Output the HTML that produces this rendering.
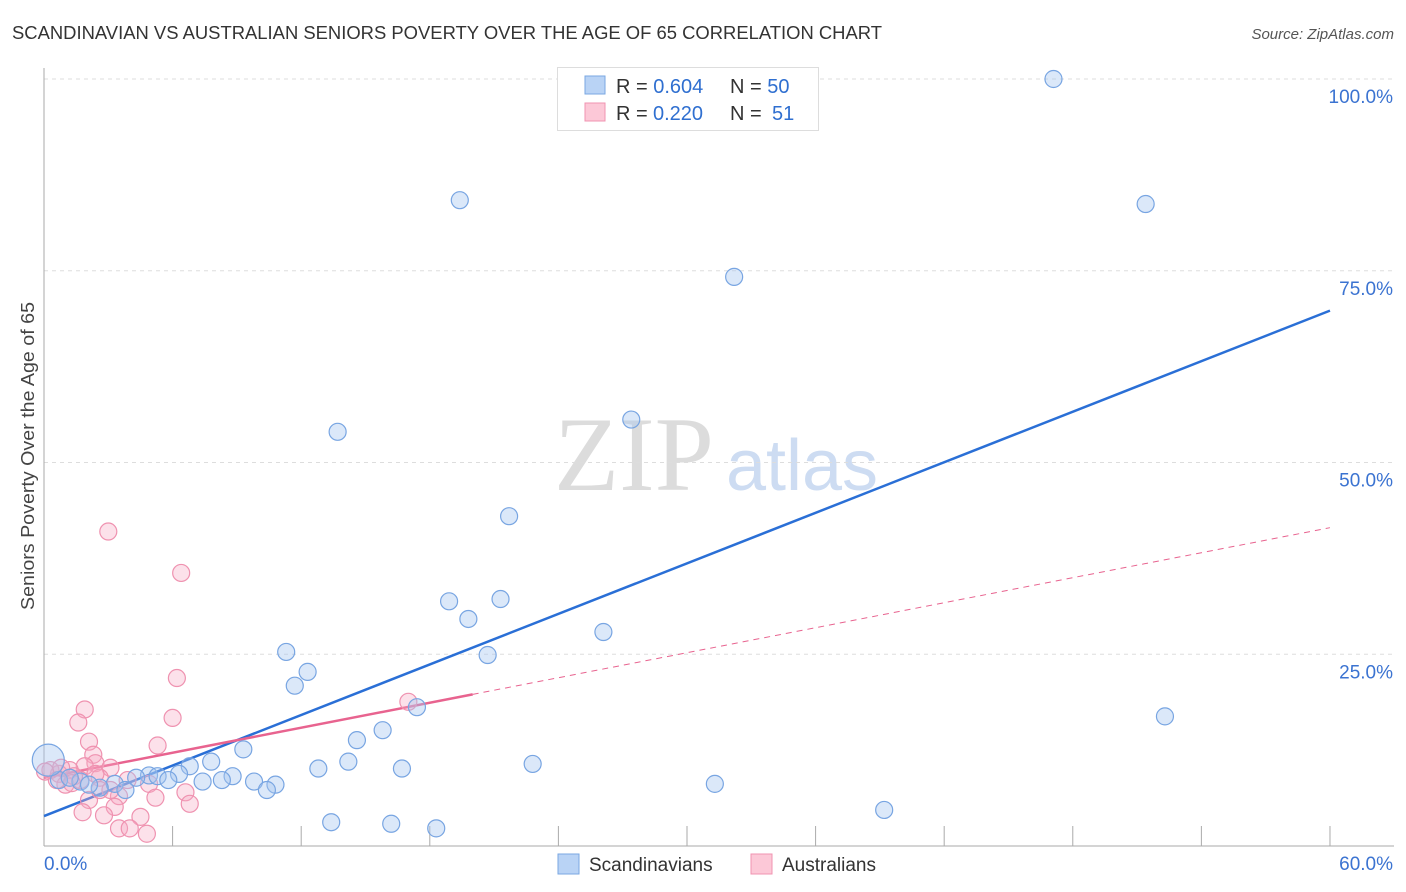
<!DOCTYPE html>
<html><head><meta charset="utf-8"><style>
body{margin:0;background:#fff;font-family:"Liberation Sans",sans-serif;}
svg{display:block}
</style></head><body>
<svg id="chart" width="1406" height="892" xmlns="http://www.w3.org/2000/svg">
<text x="12" y="39" font-size="18" fill="#333" textLength="870" lengthAdjust="spacingAndGlyphs">SCANDINAVIAN VS AUSTRALIAN SENIORS POVERTY OVER THE AGE OF 65 CORRELATION CHART</text>
<text x="1394" y="39" font-size="15" fill="#555" font-style="italic" text-anchor="end">Source: ZipAtlas.com</text>
<text transform="translate(34,456) rotate(-90)" font-size="18" fill="#444" text-anchor="middle" textLength="308" lengthAdjust="spacingAndGlyphs">Seniors Poverty Over the Age of 65</text>
<g>
<text x="634" y="490" font-size="106" fill="#dcdcdc" font-family="Liberation Serif,serif" text-anchor="middle" textLength="160" lengthAdjust="spacingAndGlyphs">ZIP</text>
<text x="802" y="490" font-size="72" fill="#cddcf2" text-anchor="middle">atlas</text>
</g>
<g id="grid"></g>
<g id="axes"></g>
<g id="lines"></g>
<g id="pts"></g>
<g>
<rect x="557.5" y="67.5" width="261" height="63" fill="#fff" stroke="#ddd"/>
<rect x="585" y="76" width="20" height="18" fill="#b9d3f5" stroke="#7aa7e2"/>
<rect x="585" y="103" width="20" height="18" fill="#fcc8d7" stroke="#f093b0"/>
<text x="616" y="93" font-size="20" fill="#333">R = <tspan fill="#2f6fd0">0.604</tspan><tspan x="730">N = </tspan><tspan fill="#2f6fd0">50</tspan></text>
<text x="616" y="120" font-size="20" fill="#333">R = <tspan x="653" fill="#2f6fd0">0.220</tspan><tspan x="730">N = </tspan><tspan x="772" fill="#2f6fd0">51</tspan></text>
</g>
<g>
<rect x="558" y="854" width="21" height="20" fill="#b9d3f5" stroke="#7aa7e2"/>
<text x="589" y="871" font-size="19" fill="#333">Scandinavians</text>
<rect x="751" y="854" width="21" height="20" fill="#fcc8d7" stroke="#f093b0"/>
<text x="782" y="871" font-size="19" fill="#333">Australians</text>
</g>
</svg>
<script>
const blueX=[47.1,19.4,51.4,32.2,27.4,13.7,21.7,18.9,21.3,19.8,26.1,20.7,11.3,12.3,11.7,17.4,52.3,9.3,15.8,14.6,7.8,6.8,14.2,12.8,16.7,22.8,6.3,4.9,5.3,4.3,8.8,9.8,8.3,7.4,5.8,3.3,10.8,10.4,3.8,2.6,1.7,31.3,39.2,13.4,16.2,18.3,0.7,1.2,2.1,0.2];
const blueY=[100,84.2,83.7,74.2,55.6,54.0,43.0,31.9,32.2,29.6,27.9,24.9,25.3,22.7,20.9,18.1,16.9,12.6,15.1,13.8,11.0,10.4,11.0,10.1,10.1,10.7,9.4,9.2,9.1,8.9,9.1,8.4,8.6,8.4,8.6,8.1,8.0,7.3,7.3,7.6,8.4,8.1,4.7,3.1,2.9,2.3,8.6,8.9,8.0,11.2];
const pinkX=[3.0,6.4,6.2,17.0,1.9,1.6,6.0,5.3,2.1,2.3,2.4,3.1,1.9,3.9,4.9,1.2,0.7,0.3,2.6,1.7,1.0,6.6,5.2,3.5,2.1,1.8,3.3,2.8,6.8,4.5,3.5,4.0,4.8,2.6,0.6,1.4,2.4,3.1,0.8,0.05,1.3];
const pinkY=[41.0,35.6,21.9,18.8,17.8,16.1,16.7,13.1,13.6,11.9,10.8,10.2,10.4,8.6,8.1,9.9,9.4,9.9,8.9,8.6,8.0,7.0,6.3,6.5,6.0,4.4,5.1,4.0,5.5,3.8,2.3,2.3,1.6,7.3,8.6,9.1,9.4,7.3,10.2,9.7,8.2];
const yTicks=[25,50,75,100];
const yTickLabels=["25.0%","50.0%","75.0%","100.0%"];
const xTicks=[0,6,12,18,24,30,36,42,48,54,60];
const blueFit=[3.9,69.8];
const pinkFit=[8.9,41.5];
const pinkSolidEnd=20;

const X=v=>44+v*21.433, Y=v=>846-v*7.67;
const NS="http://www.w3.org/2000/svg";
function mk(t,a,p){const e=document.createElementNS(NS,t);for(const k in a)e.setAttribute(k,a[k]);p.appendChild(e);return e;}
const grid=document.getElementById('grid'),axes=document.getElementById('axes'),lines=document.getElementById('lines'),pts=document.getElementById('pts');
yTicks.forEach((t,i)=>{
 const l=mk('line',{x1:44,x2:1394,y1:Y(t),y2:Y(t),stroke:'#ddd','stroke-dasharray':'4,4'},grid);
 
 
 const tx=mk('text',{x:1393,y:Y(t)+24,'font-size':19,fill:'#3b73d1','text-anchor':'end'},axes);
 tx.textContent=yTickLabels[i];
 
 
});
const ya=mk('line',{x1:44,x2:44,y1:68,y2:846,stroke:'#aaa'},axes);


const xa=mk('line',{x1:44,x2:1394,y1:846,y2:846,stroke:'#aaa'},axes);


xTicks.forEach(t=>{if(t===0)return;
 const l=mk('line',{x1:X(t),x2:X(t),y1:826,y2:846,stroke:'#aaa'},axes);
 
 
});
const xl0=mk('text',{x:44,y:870,'font-size':19,fill:'#3b73d1'},axes);xl0.textContent='0.0%';


const xl1=mk('text',{x:1393,y:870,'font-size':19,fill:'#3b73d1','text-anchor':'end'},axes);xl1.textContent='60.0%';



function dot(x,y,r,fill,stroke,name){const c=mk('circle',{cx:X(x),cy:Y(y),r:r,fill:fill,stroke:stroke,'stroke-width':1.2},pts);
 
 }
pinkX.forEach((x,i)=>dot(x,pinkY[i],8.5,'rgba(246,170,196,0.35)','#ef92b0','australians-point'));
blueX.forEach((x,i)=>dot(x,blueY[i],i===blueX.length-1?16:8.5,'rgba(165,198,240,0.4)','#78a5e2','scandinavians-point'));

const bl=mk('line',{x1:X(0),y1:Y(blueFit[0]),x2:X(60),y2:Y(blueFit[1]),stroke:'#2a6fd6','stroke-width':2.5},lines);


const py=v=>pinkFit[0]+(pinkFit[1]-pinkFit[0])*v/60;
const pd=mk('line',{x1:X(pinkSolidEnd),y1:Y(py(pinkSolidEnd)),x2:X(60),y2:Y(py(60)),stroke:'#e8638f','stroke-width':1,'stroke-dasharray':'6,5'},lines);


const ps=mk('line',{x1:X(0),y1:Y(py(0)),x2:X(pinkSolidEnd),y2:Y(py(pinkSolidEnd)),stroke:'#e8638f','stroke-width':2.5},lines);


</script>
</body></html>
